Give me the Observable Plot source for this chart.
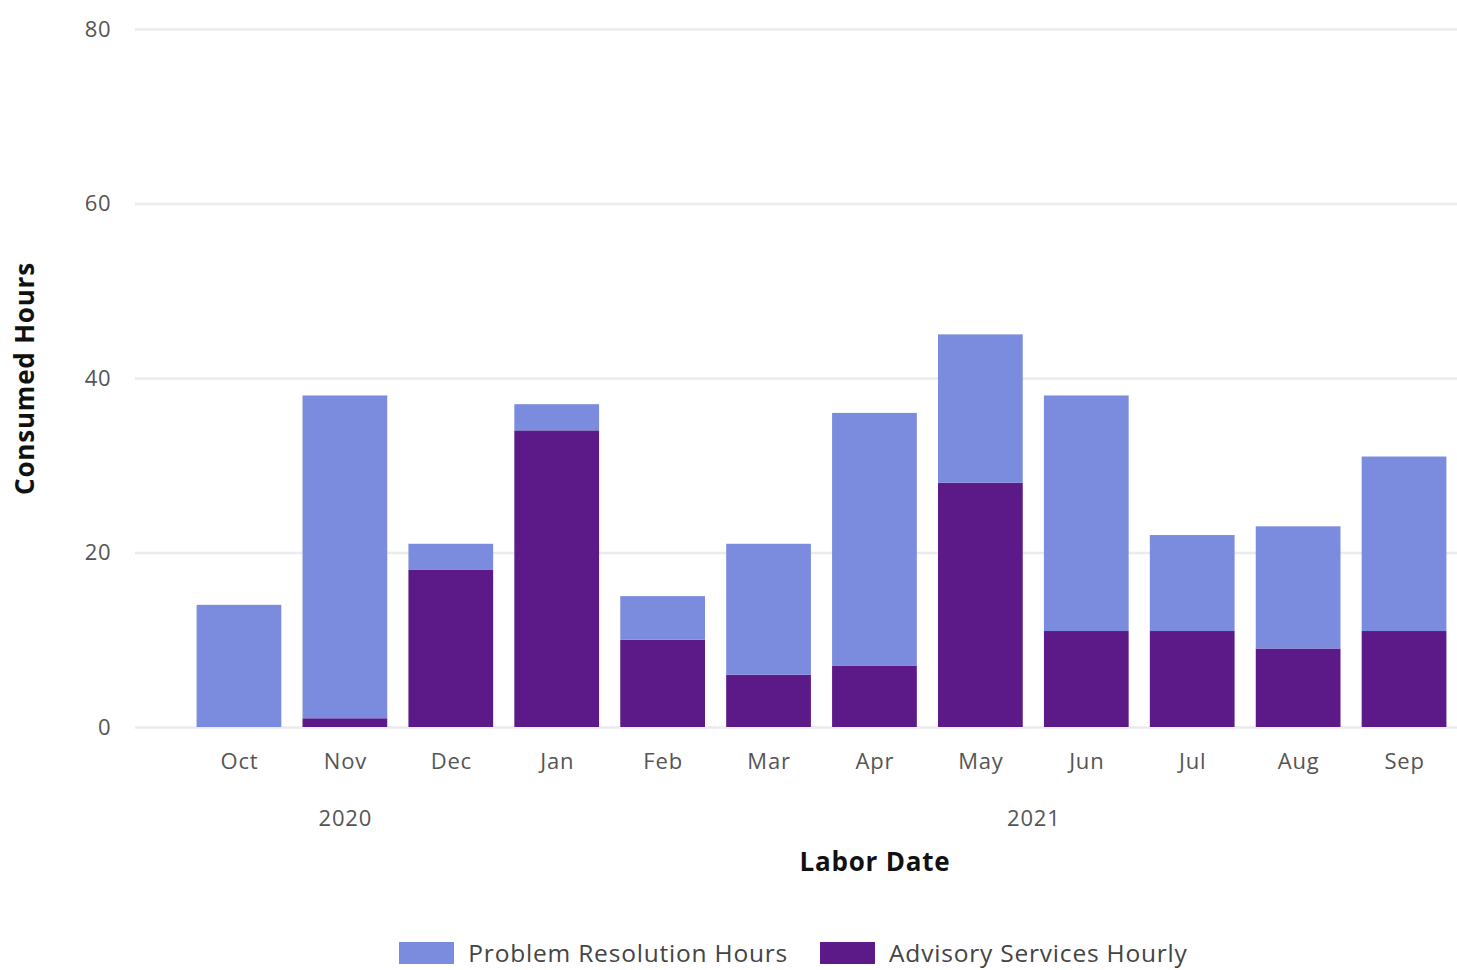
<!DOCTYPE html>
<html>
<head>
<meta charset="utf-8">
<script src="https://cdn.jsdelivr.net/npm/d3@7"></script>
<script src="https://cdn.jsdelivr.net/npm/@observablehq/plot@0.6"></script>
<style>
  html, body { margin: 0; padding: 0; background: #fff; }
  body { width: 1457px; height: 970px; overflow: hidden; font-family: "Open Sans", sans-serif; }
  #legend { display: flex; justify-content: center; align-items: center; gap: 32px; margin-top: 36px; margin-left: 130px; font-size: 24.5px; letter-spacing: 0.8px; color: #444; }
  .item { display: flex; align-items: center; gap: 14px; }
  .sw { width: 55px; height: 22px; display: inline-block; }
  svg text { letter-spacing: 0.8px; }
</style>
</head>
<body>
<div id="chart"></div>
<div id="legend"></div>
<script>
const months = ["Oct","Nov","Dec","Jan","Feb","Mar","Apr","May","Jun","Jul","Aug","Sep"];
const advisory = [0, 1, 18, 34, 10, 6, 7, 28, 11, 11, 9, 11];
const problem = [14, 37, 3, 3, 5, 15, 29, 17, 27, 11, 14, 20];
const seriesNames = ["Problem Resolution Hours", "Advisory Services Hourly"];
const seriesColors = ["#7B8CDE", "#5B1A87"];
const yTicks = [0, 20, 40, 60, 80];
const years = [{year: "2020", month: "Nov"}, {year: "2021", month: "May"}];

const data = [];
months.forEach((m, i) => {
  data.push({month: m, series: seriesNames[1], value: advisory[i]});
  data.push({month: m, series: seriesNames[0], value: problem[i]});
});

const chart = Plot.plot({
  width: 1457,
  height: 900,
  marginTop: 29,
  marginLeft: 135,
  marginRight: 0,
  marginBottom: 173,
  style: {fontFamily: "Open Sans, sans-serif", fontSize: "22px", color: "#555", background: "#fff"},
  x: {domain: months, insetLeft: 51, paddingInner: 0.2, paddingOuter: 0.1, round: false, label: null},
  y: {domain: [0, 80], label: null},
  color: {domain: seriesNames, range: seriesColors},
  marks: [
    Plot.ruleY(yTicks, {stroke: "#ebebeb", strokeWidth: 2.5}),
    Plot.barY(data, Plot.stackY({x: "month", y: "value", fill: "series", order: [seriesNames[1], seriesNames[0]]})),
    Plot.axisY(yTicks, {tickSize: 0, tickPadding: 24, fill: "#555", fontSize: 22}),
    Plot.axisX({tickSize: 0, tickPadding: 26, fill: "#555", fontSize: 22, label: null}),
    Plot.text([years[0]], {x: "month", text: "year", frameAnchor: "bottom", dy: 98, fill: "#555", fontSize: 22}),
    Plot.text([years[1]], {x: "month", text: "year", frameAnchor: "bottom", dy: 98, dx: 53, fill: "#555", fontSize: 22}),
    Plot.text(["Labor Date"], {x: () => "Apr", text: d => d, frameAnchor: "bottom", dy: 143, fill: "#111", fontSize: 26, fontWeight: "bold"}),
    Plot.text(["Consumed Hours"], {frameAnchor: "left", textAnchor: "middle", text: d => d, rotate: -90, dx: -110, fill: "#111", fontSize: 26, fontWeight: "bold"})
  ]
});
document.getElementById("chart").appendChild(chart);

const legend = document.getElementById("legend");
seriesNames.forEach((n, i) => {
  const it = document.createElement("div");
  it.className = "item";
  it.innerHTML = `<span class="sw" style="background:${seriesColors[i]}"></span><span>${n}</span>`;
  legend.appendChild(it);
});
</script>
</body>
</html>
